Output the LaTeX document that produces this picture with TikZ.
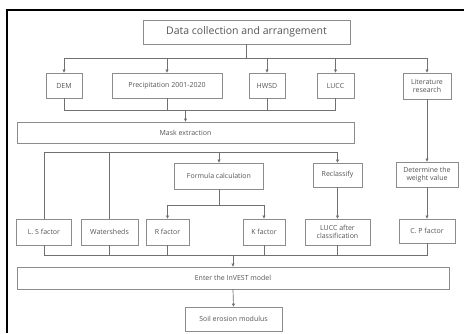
\documentclass[tikz,border=0pt]{standalone}
\usepackage{fontspec}
\setmainfont{Open Sans}
\usetikzlibrary{arrows.meta}
\definecolor{bordergray}{HTML}{8C8C8C}
\definecolor{textgray}{HTML}{555555}
\definecolor{linegray}{HTML}{707070}
\begin{document}
\begin{tikzpicture}[x=1pt,y=-1pt,
  box/.style={draw=bordergray, line width=0.9pt, text=textgray, inner sep=0pt, align=center,
    font=\fontsize{7}{8.5}\selectfont},
  conn/.style={draw=linegray, line width=0.7pt},
  arr/.style={conn, -{Triangle[length=3pt,width=3pt]}}]
\useasboundingbox (0,0) rectangle (464,333);
\fill[white] (0,0) rectangle (464,333);
% frame
\draw[line width=1.5pt] (464,10) -- (7,10) -- (7,333);
% nodes
\node[box, minimum width=207pt, minimum height=24pt, font=\fontsize{10.5}{12}\selectfont] (data) at (246.5,32) {Data collection and arrangement};
\node[box, minimum width=36pt, minimum height=25pt] (dem) at (64,85.5) {DEM};
\node[box, minimum width=110pt, minimum height=25pt] (prec) at (167,85.5) {Precipitation 2001-2020};
\node[box, minimum width=36pt, minimum height=25pt] (hwsd) at (267,85.5) {HWSD};
\node[box, minimum width=37pt, minimum height=25pt] (lucc) at (335.5,85.5) {LUCC};
\node[box, minimum width=48pt, minimum height=26pt] (lit) at (427,86) {Literature\\research};
\node[box, minimum width=337pt, minimum height=21pt] (mask) at (185.5,132.5) {Mask extraction};
\node[box, minimum width=89pt, minimum height=26pt] (formula) at (219,176) {Formula calculation};
\node[box, minimum width=49pt, minimum height=24pt] (reclass) at (337.5,175) {Reclassify};
\node[box, minimum width=62pt, minimum height=25pt] (weight) at (427,174.5) {Determine the\\weight value};
\node[box, minimum width=55pt, minimum height=26pt] (ls) at (44,232) {L. S factor};
\node[box, minimum width=57pt, minimum height=26pt] (ws) at (109.5,232) {Watersheds};
\node[box, minimum width=43pt, minimum height=26pt] (rf) at (167.5,232) {R factor};
\node[box, minimum width=42pt, minimum height=26pt] (kf) at (264,232) {K factor};
\node[box, minimum width=65pt, minimum height=26pt] (lucc2) at (337.5,232) {LUCC after\\classification};
\node[box, minimum width=56pt, minimum height=24pt] (cp) at (427,231) {C. P factor};
\node[box, minimum width=432pt, minimum height=22pt] (enter) at (233,278) {Enter the InVEST model};
\node[box, minimum width=97pt, minimum height=24pt] (soil) at (233.5,319) {Soil erosion modulus};
% helper coordinates
\coordinate (h1) at (0,58);
\coordinate (h2) at (0,110);
\coordinate (h3) at (0,152.5);
\coordinate (h4) at (0,205);
\coordinate (h5) at (0,255.5);
% row 1
\draw[conn] (data.south) -- (data.south |- h1);
\draw[conn] (dem.north |- h1) -- (lit.north |- h1);
\foreach \n in {dem,prec,hwsd,lucc,lit} \draw[arr] (\n.north |- h1) -- (\n.north);
% row 2
\draw[conn] (dem.south) -- (dem.south |- h2) -- (lucc.south |- h2) -- (lucc.south);
\draw[conn] (prec.south) -- (prec.south |- h2);
\draw[conn] (hwsd.south) -- (hwsd.south |- h2);
\draw[arr] (mask.north |- h2) -- (mask.north);
% row 3
\draw[conn] (ls.north) -- (ls.north |- h3) -- (reclass.north |- h3);
\draw[conn] (ws.north) -- (ws.north |- h3);
\draw[arr] (formula.north |- h3) -- (formula.north);
\draw[arr] (reclass.north |- h3) -- (reclass.north);
\draw[arr] (lit.south) -- (weight.north);
% formula to R,K
\draw[conn] (formula.south) -- (formula.south |- h4);
\draw[conn] (rf.north |- h4) -- (kf.north |- h4);
\draw[arr] (rf.north |- h4) -- (rf.north);
\draw[arr] (kf.north |- h4) -- (kf.north);
\draw[arr] (reclass.south) -- (lucc2.north);
\draw[arr] (weight.south) -- (cp.north);
% row 4
\draw[conn] (ls.south |- h5) -- (cp.south |- h5);
\foreach \n in {ls,ws,rf,kf,lucc2,cp} \draw[conn] (\n.south) -- (\n.south |- h5);
\draw[arr] (enter.north |- h5) -- (enter.north);
\draw[arr] (enter.south) -- (soil.north);
\end{tikzpicture}
\end{document}
